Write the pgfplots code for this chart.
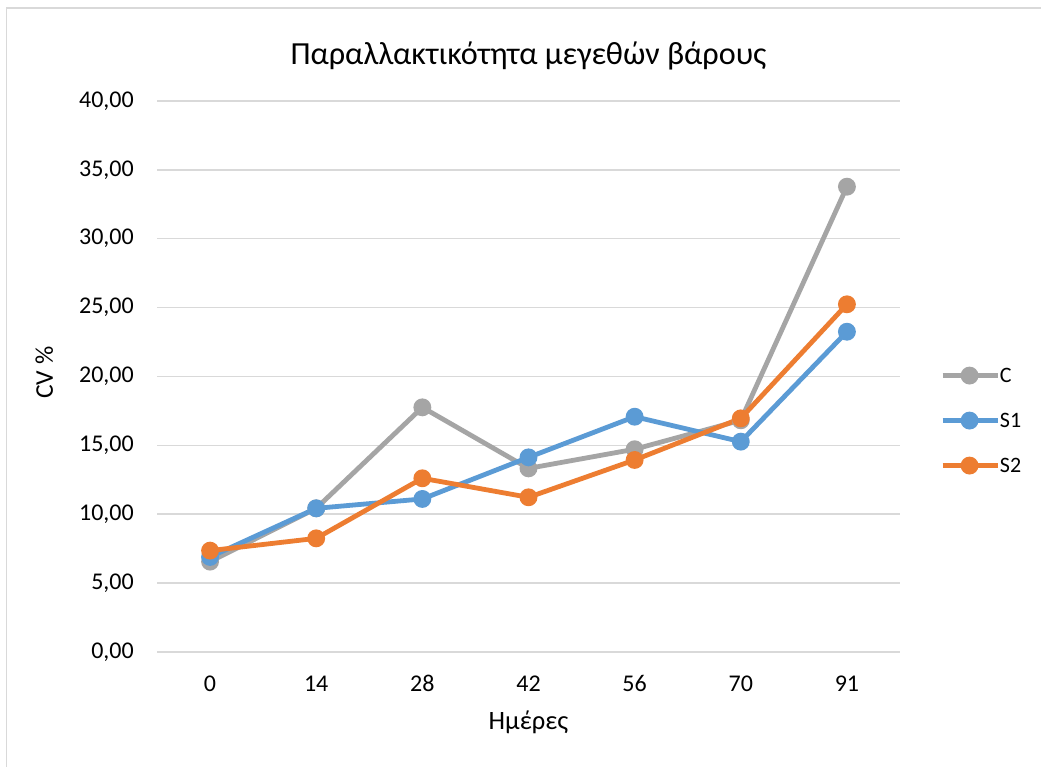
\documentclass[border=0pt]{standalone}
\usepackage{fontspec}
\setmainfont{Carlito}
\usepackage{pgfplots}
\pgfplotsset{compat=1.18}
\definecolor{cC}{HTML}{A5A5A5}
\definecolor{cS1}{HTML}{5B9BD5}
\definecolor{cS2}{HTML}{ED7D31}
\definecolor{gridc}{HTML}{D9D9D9}
\definecolor{framec}{HTML}{D9D9D9}
\begin{document}
\begin{tikzpicture}[x=1pt,y=1pt]
\useasboundingbox (0,0) rectangle (1041,767);
\fill[white] (0,0) rectangle (1041,767);
\draw[framec, line width=1.5pt] (6.5,0) -- (6.5,759) -- (1041,759);
\node[font=\fontsize{32.2}{38}\selectfont, anchor=base, inner sep=0pt] at (528.5,702.7) {Παραλλακτικότητα μεγεθών βάρους};
\begin{axis}[
  at={(157pt,115pt)}, anchor=south west,
  scale only axis, width=743pt, height=551pt,
  xmin=-0.5, xmax=6.5, ymin=0, ymax=40,
  xtick={0,...,6}, xticklabels={0,14,28,42,56,70,91},
  ytick={0,5,...,40},
  ymajorgrids, grid style={gridc, line width=1.5pt},
  axis line style={draw=none},
  major tick length=0pt,
  /pgf/number format/assume math mode=true,
  tick label style={font=\fontsize{24}{28}\selectfont, inner sep=0pt},
  yticklabel style={/pgf/number format/fixed, /pgf/number format/fixed zerofill, /pgf/number format/precision=2, /pgf/number format/use comma, /pgf/number format/1000 sep={}, anchor=east, xshift=-23pt},
  xticklabel style={anchor=base, yshift=-39.7pt},
  xlabel={Ημέρες},
  xlabel style={font=\fontsize{26.5}{30}\selectfont, at={(rel axis cs:0.5,0)}, anchor=base, yshift=-77.3pt, inner sep=0pt},
  ylabel={CV \%},
  ylabel style={font=\fontsize{25.5}{30}\selectfont, at={(axis description cs:-0.140,0.5069)}, anchor=base, inner sep=0pt},
  legend style={at={(rel axis cs:1.0538,0.420)}, anchor=west, draw=none, fill=none,
    font=\fontsize{22}{26}\selectfont, inner sep=0pt, row sep=31pt,
    nodes={inner sep=0pt, text height=14pt, text depth=0pt},
    /tikz/every even column/.append style={column sep=4pt}},
  legend cell align=left,
  legend image code/.code={\draw[mark repeat=2,mark phase=2,#1] plot coordinates {(0pt,0pt) (27pt,0pt) (55pt,0pt)};},
  every axis plot/.append style={line width=4.8pt, mark=*, mark size=6.5pt},
]
\addplot[color=cC, mark options={draw=none, fill=cC}] coordinates {(0,6.56) (1,10.43) (2,17.76) (3,13.33) (4,14.72) (5,16.82) (6,33.78)};
\addlegendentry{C}
\addplot[color=cS1, mark options={draw=none, fill=cS1}] coordinates {(0,6.90) (1,10.43) (2,11.11) (3,14.13) (4,17.08) (5,15.27) (6,23.25)};
\addlegendentry{S1}
\addplot[color=cS2, mark options={draw=none, fill=cS2}] coordinates {(0,7.36) (1,8.25) (2,12.61) (3,11.23) (4,13.94) (5,16.96) (6,25.24)};
\addlegendentry{S2}
\end{axis}
\end{tikzpicture}
\end{document}
